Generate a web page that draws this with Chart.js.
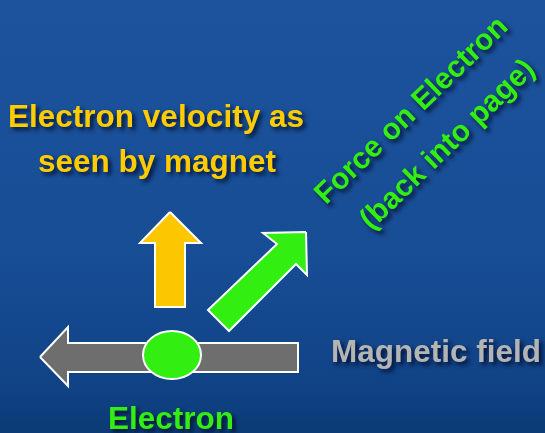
<!DOCTYPE html>
<html>
<head>
<meta charset="utf-8">
<script src="https://cdn.jsdelivr.net/npm/chart.js@4/dist/chart.umd.min.js"></script>
<style>
  html, body { margin: 0; padding: 0; background: #1a519a; }
  #wrap { width: 545px; height: 433px; }
</style>
</head>
<body>
<div id="wrap"><canvas id="diagram" width="545" height="433"></canvas></div>
<script>
// shape outlines, in the diagram's own units (x right, y down)
const fieldArrowX = [40, 68, 68, 298, 298, 68, 68, 40];
const fieldArrowY = [357, 327, 343, 343, 372, 372, 386, 357];

const velocityArrowX = [170, 201, 185, 185, 155, 155, 140, 170];
const velocityArrowY = [212, 243, 243, 307, 307, 243, 243, 212];

const forceArrowX = [306, 307, 296, 229, 208, 277, 263, 306];
const forceArrowY = [232, 275, 264, 331, 310, 244, 233, 232];

const electronCenter = [172, 355];
const electronRadius = [29, 24];

// labels
const labelText = ["Electron velocity as", "seen by magnet", "Electron", "Magnetic field", "Force on Electron", "(back into page)"];
const labelX = [156, 157, 171, 436, 412, 448];
const labelY = [127, 172, 429, 362, 111, 145];
const labelAngle = [0, 0, 0, 0, -44, -44];
const labelColor = ["#ffcc00", "#ffcc00", "#33ee11", "#b4b4b4", "#33ee11", "#33ee11"];

const toPoints = (xs, ys) => xs.map((x, i) => ({ x: x, y: ys[i] }));

const shape = (xs, ys, color) => ({
    data: toPoints(xs, ys),
    showLine: true,
    fill: "shape",
    backgroundColor: color,
    borderColor: "#ffffff",
    borderWidth: 2,
    borderJoinStyle: "miter",
    pointRadius: 0,
    tension: 0,
});

const backdrop = {
    id: "backdrop",
    beforeDraw(chart) {
        const ctx = chart.ctx;
        const g = ctx.createLinearGradient(0, 0, 0, chart.height);
        g.addColorStop(0, "#1c539c");
        g.addColorStop(0.6, "#174d95");
        g.addColorStop(0.9, "#104285");
        g.addColorStop(1, "#0b3a74");
        ctx.save();
        ctx.fillStyle = g;
        ctx.fillRect(0, 0, chart.width, chart.height);
        ctx.restore();
    },
};

const electron = {
    id: "electron",
    afterDatasetsDraw(chart) {
        const ctx = chart.ctx;
        const sx = chart.scales.x, sy = chart.scales.y;
        const cx = sx.getPixelForValue(electronCenter[0]);
        const cy = sy.getPixelForValue(electronCenter[1]);
        const rx = Math.abs(sx.getPixelForValue(electronCenter[0] + electronRadius[0]) - cx);
        const ry = Math.abs(sy.getPixelForValue(electronCenter[1] + electronRadius[1]) - cy);
        ctx.save();
        ctx.beginPath();
        ctx.ellipse(cx, cy, rx, ry, 0, 0, Math.PI * 2);
        ctx.fillStyle = "#33ee11";
        ctx.fill();
        ctx.lineWidth = 2;
        ctx.strokeStyle = "#ffffff";
        ctx.stroke();
        ctx.restore();
    },
};

const labels = {
    id: "labels",
    afterDraw(chart) {
        const ctx = chart.ctx;
        const sx = chart.scales.x, sy = chart.scales.y;
        ctx.save();
        ctx.textAlign = "center";
        labelText.forEach((t, i) => {
            ctx.save();
            ctx.font = "bold " + (labelAngle[i] ? 30 : 31.5) + "px 'Liberation Sans', Arial, sans-serif";
            ctx.translate(sx.getPixelForValue(labelX[i]), sy.getPixelForValue(labelY[i]));
            ctx.rotate(labelAngle[i] * Math.PI / 180);
            ctx.textBaseline = labelAngle[i] ? "middle" : "alphabetic";
            ctx.shadowColor = "rgba(0,10,40,0.85)";
            ctx.shadowOffsetX = 3;
            ctx.shadowOffsetY = 3;
            ctx.shadowBlur = 4;
            ctx.fillStyle = labelColor[i];
            ctx.fillText(t, 0, 0);
            ctx.restore();
        });
        ctx.restore();
    },
};

new Chart("diagram", {
    type: "scatter",
    data: {
        datasets: [
            shape(fieldArrowX, fieldArrowY, "#6e6e6e"),
            shape(velocityArrowX, velocityArrowY, "#fdc700"),
            shape(forceArrowX, forceArrowY, "#33ee11"),
        ],
    },
    options: {
        responsive: false,
        animation: false,
        layout: { padding: 0 },
        plugins: { legend: { display: false }, tooltip: { enabled: false } },
        scales: {
            x: { type: "linear", min: 0, max: 545, display: false },
            y: { type: "linear", min: 0, max: 433, reverse: true, display: false },
        },
    },
    plugins: [backdrop, electron, labels],
});
</script>
</body>
</html>
